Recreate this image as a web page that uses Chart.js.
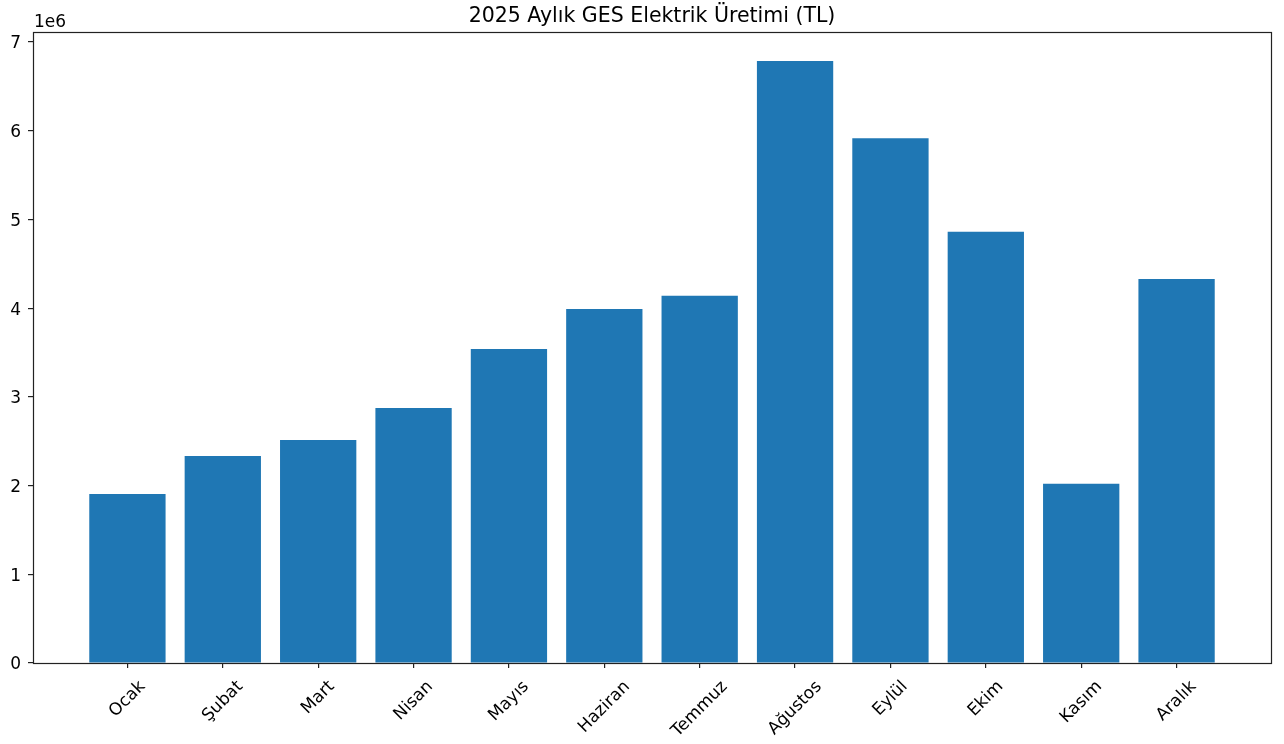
<!DOCTYPE html>
<html>
<head>
<meta charset="utf-8">
<title>2025 Aylık GES Elektrik Üretimi (TL)</title>
<script src="https://cdn.jsdelivr.net/npm/chart.js@4/dist/chart.umd.min.js"></script>
<style>
  html, body { margin: 0; padding: 0; background: #fff; }
  #wrap { width: 1284px; height: 744px; }
</style>
</head>
<body>
<div id="wrap"><canvas id="chart" width="1284" height="744"></canvas></div>
<script>
// monthly values (TL)
const months = ['Ocak', 'Şubat', 'Mart', 'Nisan', 'Mayıs', 'Haziran', 'Temmuz', 'Ağustos', 'Eylül', 'Ekim', 'Kasım', 'Aralık'];
const production = [1905000, 2334000, 2514000, 2875000, 3540000, 3990000, 4140000, 6785000, 5915000, 4860000, 2020000, 4330000];
const yTicks = [0, 1, 2, 3, 4, 5, 6, 7];
const yScaleExp = 1e6;

const FONT = '"DejaVu Sans", Verdana, sans-serif';
const TICK_PX = 17;
const TITLE_PX = 20.5;
const barColor = '#1f77b4';

// matplotlib-like frame, title, offset text and rotated month labels
const mplDecor = {
  id: 'mplDecor',
  afterDraw(chart) {
    const { ctx, chartArea: a } = chart;
    const xs = chart.scales.x;
    ctx.save();
    ctx.strokeStyle = '#222';
    ctx.lineWidth = 1.2;
    ctx.strokeRect(Math.round(a.left) + 0.5, Math.round(a.top) + 0.5,
      Math.round(a.right - a.left), Math.round(a.bottom - a.top));

    ctx.fillStyle = '#000';
    ctx.font = TITLE_PX + 'px ' + FONT;
    ctx.textAlign = 'center';
    ctx.textBaseline = 'alphabetic';
    ctx.fillText('2025 Aylık GES Elektrik Üretimi (TL)', (a.left + a.right) / 2, 22);

    ctx.font = TICK_PX + 'px ' + FONT;
    ctx.textAlign = 'left';
    ctx.fillText('1e' + Math.round(Math.log10(yScaleExp)), a.left + 1, 27);

    ctx.textAlign = 'center';
    ctx.textBaseline = 'middle';
    const h = TICK_PX * 1.17;
    months.forEach((m, i) => {
      const w = ctx.measureText(m).width;
      const H = (w + h) * Math.SQRT1_2;
      const cx = xs.getPixelForValue(i);
      const cy = a.bottom + 14 + H / 2;
      ctx.save();
      ctx.translate(cx, cy);
      ctx.rotate(-Math.PI / 4);
      ctx.fillText(m, 0, 0);
      ctx.restore();
    });
    ctx.restore();
  }
};

new Chart(document.getElementById('chart'), {
  type: 'bar',
  data: {
    datasets: [{
      data: production.map((v, i) => ({ x: i, y: v })),
      backgroundColor: barColor,
      borderWidth: 0,
      barPercentage: 0.8,
      categoryPercentage: 1.0
    }]
  },
  options: {
    responsive: false,
    animation: false,
    devicePixelRatio: 1,
    layout: { padding: { top: 32, right: 13, left: 0, bottom: 0 } },
    plugins: {
      legend: { display: false },
      title: { display: false },
      tooltip: { enabled: false }
    },
    scales: {
      x: {
        type: 'linear',
        offset: false,
        min: -0.99,
        max: months.length - 1 + 0.99,
        afterBuildTicks: (s) => { s.ticks = months.map((_, i) => ({ value: i })); },
        afterFit: (s) => { s.height = 81; },
        grid: { display: true, offset: false, drawOnChartArea: false, drawTicks: true, tickLength: 5, color: '#222', lineWidth: 1.2 },
        border: { display: false },
        ticks: { display: false }
      },
      y: {
        min: 0,
        max: 7.113e6,
        afterBuildTicks: (s) => { s.ticks = yTicks.map(t => ({ value: t * yScaleExp })); },
        afterFit: (s) => { s.width = 33; },
        grid: { display: true, drawOnChartArea: false, drawTicks: true, tickLength: 5, color: '#222', lineWidth: 1.2 },
        border: { display: false },
        ticks: {
          color: '#000',
          padding: 7,
          labelOffset: 2,
          font: { family: FONT, size: TICK_PX },
          callback: (v) => String(Math.round(v / yScaleExp))
        }
      }
    }
  },
  plugins: [mplDecor]
});
</script>
</body>
</html>
